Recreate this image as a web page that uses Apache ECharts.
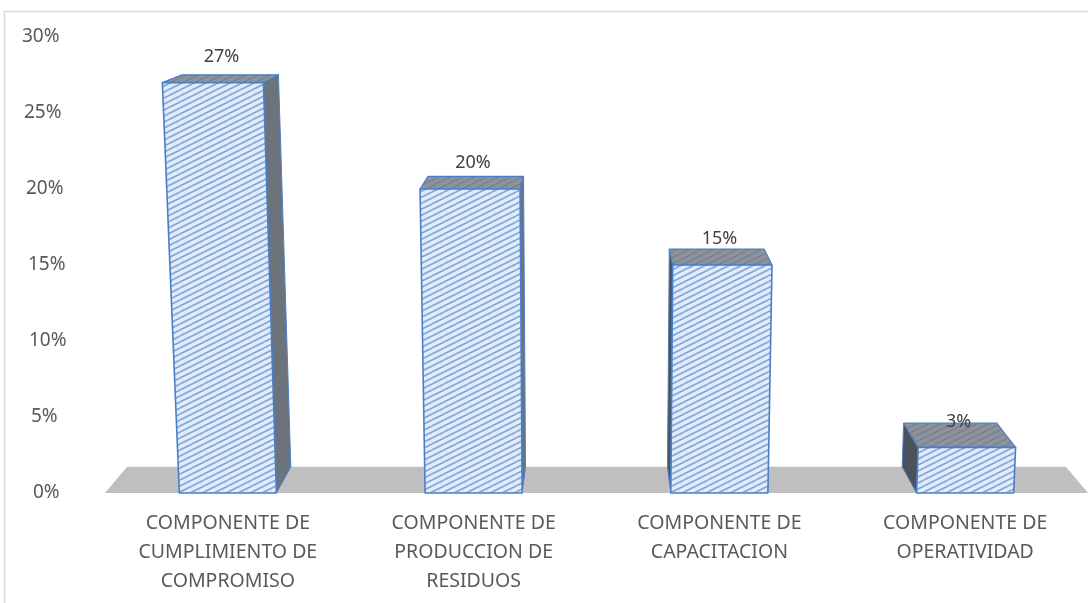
<!DOCTYPE html>
<html>
<head>
<meta charset="utf-8">
<style>
  html, body { margin: 0; padding: 0; background: #ffffff; }
  #chart { width: 1088px; height: 603px; }
</style>
<script src="https://cdn.jsdelivr.net/npm/echarts@6/dist/echarts.min.js"></script>
</head>
<body>
<div id="chart"></div>
<script>
// Categories (line breaks as shown under each bar)
const categories = [
  'COMPONENTE DE\nCUMPLIMIENTO DE\nCOMPROMISO',
  'COMPONENTE DE\nPRODUCCION DE\nRESIDUOS',
  'COMPONENTE DE\nCAPACITACION',
  'COMPONENTE DE\nOPERATIVIDAD'
];
// Share per component, in percent
const values = [27, 20, 15, 3];
// Value axis ticks
const yTicks = [0, 5, 10, 15, 20, 25, 30];

const FONT = 'Noto Sans';

// Diagonal hatch tile used for the bar faces
function hatchTile(bg, stripe, lw) {
  const c = document.createElement('canvas');
  c.width = 12; c.height = 6;
  const ctx = c.getContext('2d');
  ctx.fillStyle = bg;
  ctx.fillRect(0, 0, 12, 6);
  ctx.strokeStyle = stripe;
  ctx.lineWidth = lw;
  for (let n = -1; n <= 1; n++) {
    ctx.beginPath();
    ctx.moveTo(0, 6 + 6 * n);
    ctx.lineTo(12, 6 * n);
    ctx.stroke();
  }
  return { image: c, repeat: 'repeat' };
}
const frontFill = hatchTile('#e2ebf7', '#7fa8de', 1.7);
const topFill = hatchTile('#8d939c', '#7a818b', 1.4);

// Simple perspective: depth edges run toward a point above the plot,
// vertical edges converge slightly toward a point far below it.
const DEPTH = 0.045;
function perspective(cs) {
  const cx = cs.x + cs.width / 2;
  return {
    dvx: cx, dvy: -90,
    vvx: cx - 7, vvy: 10400,
    back(p) { return [p[0] + DEPTH * (this.dvx - p[0]), p[1] + DEPTH * (this.dvy - p[1])]; },
    lean(x, y, yBase) { return this.vvx + (x - this.vvx) * (this.vvy - y) / (this.vvy - yBase); }
  };
}

function poly(points, style, z2) {
  return { type: 'polygon', shape: { points: points }, style: style, z2: z2 || 0 };
}

function renderFloor(params, api) {
  const cs = params.coordSys;
  const P = perspective(cs);
  const y0 = api.coord([0, 0])[1];
  const fl = [cs.x, y0], fr = [cs.x + cs.width, y0];
  return poly([fl, fr, P.back(fr), P.back(fl)], { fill: '#bfbfbf', stroke: null });
}

function renderBar(params, api) {
  const cs = params.coordSys;
  const P = perspective(cs);
  const i = api.value(0), v = api.value(1);
  const base = api.coord([i, 0]);
  const top = api.coord([i, v]);
  const bw = api.size([1, 0])[0] * 0.395;
  const yb = base[1], yt = top[1];
  const xl = base[0] - bw / 2, xr = base[0] + bw / 2;
  const BL = [xl, yb], BR = [xr, yb];
  const TL = [P.lean(xl, yt, yb), yt], TR = [P.lean(xr, yt, yb), yt];
  const bTL = P.back(TL), bTR = P.back(TR), bBL = P.back(BL), bBR = P.back(BR);
  const edge = '#4a7fc7';
  const rightSide = bTR[0] > TR[0];
  const side = rightSide
    ? poly([TR, BR, bBR, bTR], { fill: '#6d737b', stroke: edge, lineWidth: 1, lineJoin: 'round' }, 1)
    : poly([TL, BL, bBL, bTL], { fill: '#4c525b', stroke: edge, lineWidth: 1, lineJoin: 'round' }, 1);
  const topFace = poly([TL, TR, bTR, bTL], { fill: topFill, stroke: edge, lineWidth: 1.2, lineJoin: 'round' }, 2);
  const front = poly([BL, BR, TR, TL], { fill: frontFill, stroke: edge, lineWidth: 1.6, lineJoin: 'round' }, 3);
  const labelX = (TL[0] + TR[0] + bTL[0] + bTR[0]) / 4;
  const label = {
    type: 'text', z2: 4,
    style: {
      text: v + '%', x: labelX, y: yt - 26,
      align: 'center', verticalAlign: 'middle',
      fill: '#404040', fontSize: 18, fontFamily: FONT
    }
  };
  return { type: 'group', children: [side, topFace, front, label] };
}

// Left-aligned tick labels drift slightly right toward the bottom
const tickRich = {};
yTicks.forEach(function (t) {
  tickRich['t' + t] = {
    fontSize: 19, fontFamily: FONT, color: '#595959',
    padding: [0, 0, 0, Math.round((30 - t) / 30 * 11)]
  };
});

const chart = echarts.init(document.getElementById('chart'), null, { renderer: 'canvas' });
chart.setOption({
  animation: false,
  backgroundColor: '#ffffff',
  graphic: [{
    type: 'rect', z: 0, silent: true,
    shape: { x: 4.5, y: 11.5, width: 1200, height: 700 },
    style: { fill: 'none', stroke: '#d9d9d9', lineWidth: 1.5 }
  }],
  grid: { left: 105, right: -2, top: 37, bottom: 110, containLabel: false },
  xAxis: {
    type: 'category',
    data: categories,
    axisLine: { show: false },
    axisTick: { show: false },
    splitLine: { show: false },
    axisLabel: {
      interval: 0, margin: 16,
      fontSize: 19.5, lineHeight: 29, fontFamily: FONT, color: '#595959'
    }
  },
  yAxis: {
    type: 'value',
    min: yTicks[0], max: yTicks[yTicks.length - 1], interval: 5,
    axisLine: { show: false },
    axisTick: { show: false },
    splitLine: { show: false },
    axisLabel: {
      align: 'left', margin: 83,
      formatter: function (val) { return '{t' + val + '|' + val + '%}'; },
      rich: tickRich
    }
  },
  series: [
    {
      type: 'custom', name: 'floor', z: 1, clip: false, silent: true,
      data: [[0, 0]],
      renderItem: renderFloor
    },
    {
      type: 'custom', name: 'componentes', z: 2, clip: false,
      data: values.map(function (v, i) { return [i, v]; }),
      renderItem: renderBar
    }
  ]
});
</script>
</body>
</html>
